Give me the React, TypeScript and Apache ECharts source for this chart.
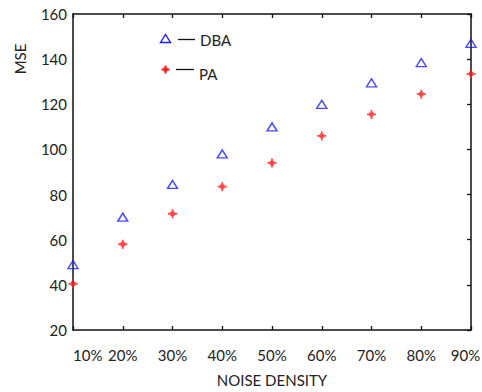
import React, { useEffect, useRef } from "react";
import * as echarts from "echarts";

const categories = [10, 20, 30, 40, 50, 60, 70, 80, 90];
const dbaValues = [49, 70, 84.5, 98, 110, 120, 129.5, 138.5, 147];
const paValues = [40.5, 58, 71.5, 83.5, 94, 106, 115.5, 124.5, 133.5];
const yTicks = { min: 20, max: 160, interval: 20 };
const seriesNames = ["DBA", "PA"];

const STAR = "path://M4,0H6V10H4Z M0,4H10V6H0Z M2.6,2.6H7.4V7.4H2.6Z";

export default function App() {
  const ref = useRef<HTMLDivElement>(null);
  useEffect(() => {
    if (!ref.current) return;
    const chart = echarts.init(ref.current, null, { renderer: "svg" });
    const font = "Lato";
    const axisLine = { show: true, lineStyle: { color: "#111", width: 1.5 } };
    const tick = { show: true, inside: true, length: 4, lineStyle: { color: "#111", width: 1.3 } };
    const lastCat = categories[categories.length - 1];
    chart.setOption({
      animation: false,
      backgroundColor: "#fff",
      grid: { left: 73, right: 11, top: 14, bottom: 62, outerBoundsMode: "none", containLabel: false },
      xAxis: [
        {
          type: "value",
          min: 10,
          max: 90,
          interval: 10,
          position: "bottom",
          axisLine,
          axisTick: tick,
          splitLine: { show: false },
          axisLabel: {
            formatter: (v: number) => (v === lastCat ? "{m|" + v + "%}" : v + "%"),
            fontFamily: font,
            fontSize: 15,
            color: "#222",
            margin: 17,
            alignMinLabel: "left",
            rich: { m: { fontFamily: font, fontSize: 15, color: "#222", padding: [0, 11, 0, 0] } },
          },
          name: "NOISE DENSITY",
          nameLocation: "middle",
          nameGap: 42,
          nameTextStyle: { fontFamily: font, fontSize: 15, color: "#222" },
        },
        {
          type: "value",
          min: 10,
          max: 90,
          interval: 10,
          position: "top",
          axisLine,
          axisTick: tick,
          splitLine: { show: false },
          axisLabel: { show: false },
        },
      ],
      yAxis: [
        {
          type: "value",
          min: yTicks.min,
          max: yTicks.max,
          interval: yTicks.interval,
          position: "left",
          axisLine,
          axisTick: { show: false },
          splitLine: { show: false },
          axisLabel: { fontFamily: font, fontSize: 15, color: "#222", margin: 6 },
        },
        {
          type: "value",
          min: yTicks.min,
          max: yTicks.max,
          interval: yTicks.interval,
          position: "right",
          axisLine,
          axisTick: tick,
          splitLine: { show: false },
          axisLabel: { show: false },
        },
      ],
      series: [
        {
          name: seriesNames[0],
          type: "scatter",
          data: categories.map((c, i) => [c, dbaValues[i]]),
          symbol: "triangle",
          symbolSize: [10, 8],
          itemStyle: { color: "rgba(255,255,255,0)", borderColor: "#1a1aff", borderWidth: 1.4 },
          z: 5,
        },
        {
          name: seriesNames[1],
          type: "scatter",
          data: categories.map((c, i) => [c, paValues[i]]),
          symbol: STAR,
          symbolSize: 9,
          itemStyle: { color: "#ff1a1a" },
          z: 5,
        },
      ],
      graphic: [
        {
          type: "text",
          x: 20,
          y: 59,
          rotation: Math.PI / 2,
          style: { text: "MSE", fontFamily: font, fontSize: 15, fill: "#222", align: "center", verticalAlign: "middle" },
        },
        {
          type: "polygon",
          shape: { points: [[160.5, 42.5], [165.5, 34.5], [170.5, 42.5]] },
          style: { fill: "none", stroke: "#1a1aff", lineWidth: 1.4 },
        },
        {
          type: "line",
          shape: { x1: 178, y1: 39.5, x2: 195, y2: 39.5 },
          style: { stroke: "#111", lineWidth: 1.3 },
        },
        {
          type: "text",
          x: 200,
          y: 39.5,
          style: { text: seriesNames[0], fontFamily: font, fontSize: 15, fill: "#222", verticalAlign: "middle" },
        },
        {
          type: "group",
          x: 165.5,
          y: 69.5,
          children: [
            { type: "rect", shape: { x: -1, y: -4, width: 2, height: 8 }, style: { fill: "#ff1a1a" } },
            { type: "rect", shape: { x: -4, y: -1, width: 8, height: 2 }, style: { fill: "#ff1a1a" } },
            { type: "rect", shape: { x: -2, y: -2, width: 4, height: 4 }, style: { fill: "#ff1a1a" } },
          ],
        },
        {
          type: "line",
          shape: { x1: 176, y1: 69.5, x2: 194, y2: 69.5 },
          style: { stroke: "#111", lineWidth: 1.3 },
        },
        {
          type: "text",
          x: 199,
          y: 74,
          style: { text: seriesNames[1], fontFamily: font, fontSize: 15, fill: "#222", verticalAlign: "middle" },
        },
      ],
    });
    return () => chart.dispose();
  }, []);
  return <div ref={ref} style={{ width: 482, height: 392, position: "absolute", left: 0, top: 0 }} />;
}
